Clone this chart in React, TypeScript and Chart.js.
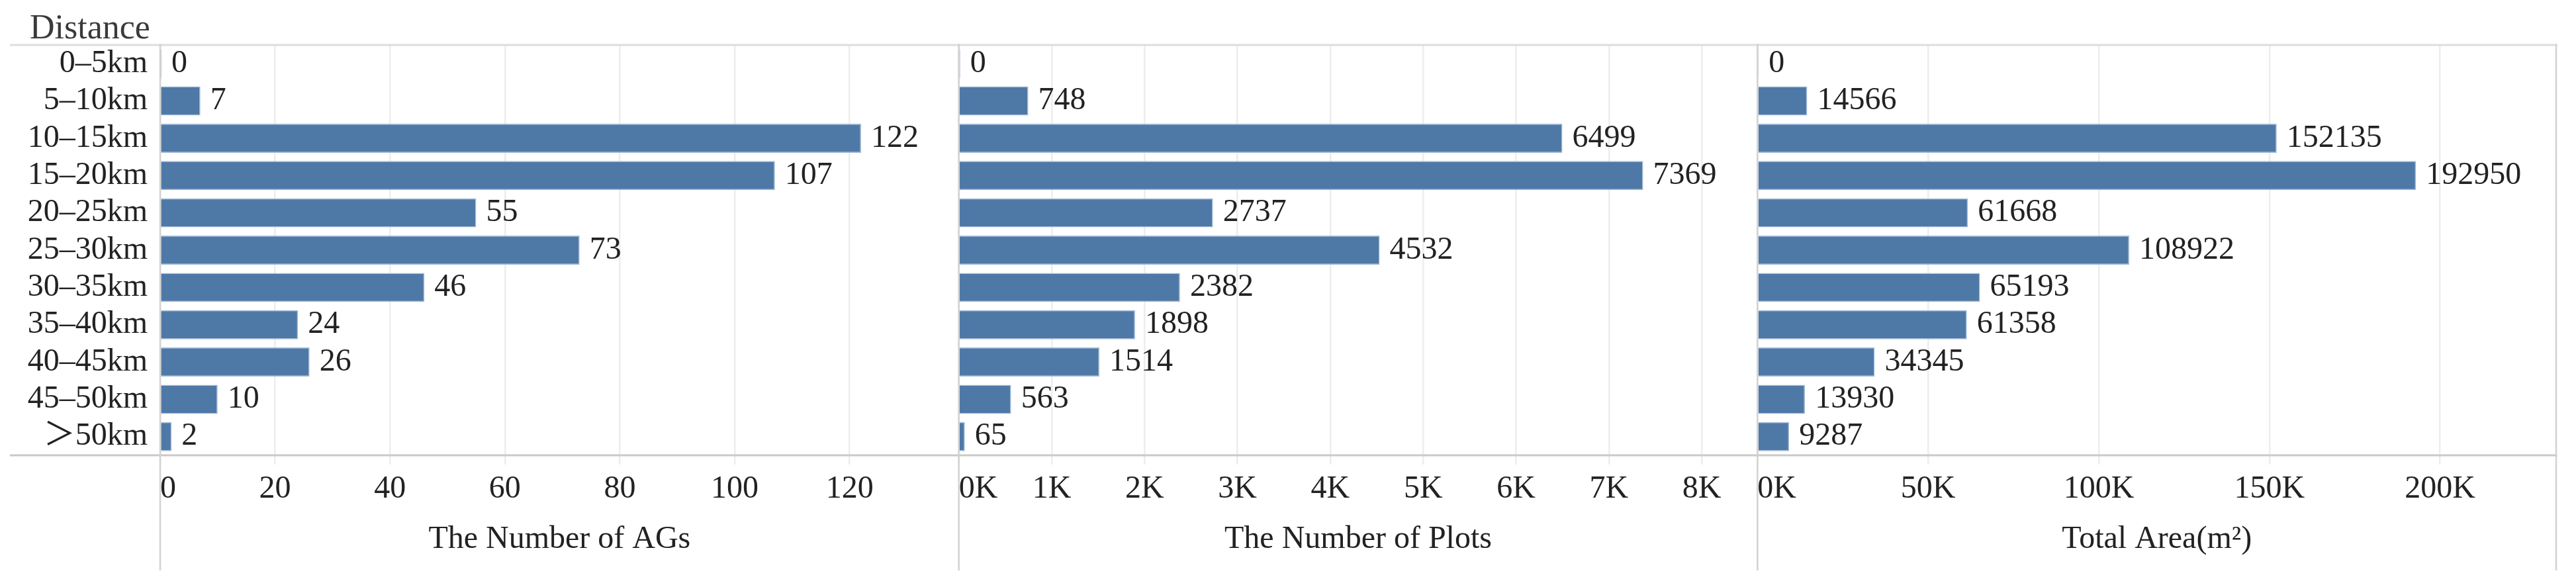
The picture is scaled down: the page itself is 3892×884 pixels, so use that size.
import React, { useEffect, useRef } from 'react';
import { Chart, registerables } from 'chart.js';

Chart.register(...registerables);

const rowHeaderTitle = 'Distance';
const categories = ['0–5km', '5–10km', '10–15km', '15–20km', '20–25km', '25–30km', '30–35km', '35–40km', '40–45km', '45–50km', '＞50km'];
const agCounts = [0, 7, 122, 107, 55, 73, 46, 24, 26, 10, 2];
const plotCounts = [0, 748, 6499, 7369, 2737, 4532, 2382, 1898, 1514, 563, 65];
const totalAreas = [0, 14566, 152135, 192950, 61668, 108922, 65193, 61358, 34345, 13930, 9287];
const axisTitles = ['The Number of AGs', 'The Number of Plots', 'Total Area(m²)'];
const agTicks = [0, 20, 40, 60, 80, 100, 120];
const plotTicks = [0, 1000, 2000, 3000, 4000, 5000, 6000, 7000, 8000];
const areaTicks = [0, 50000, 100000, 150000, 200000];
const axisMax = [139, 8600, 234000];

const FONT = "'Liberation Serif', 'Noto Sans CJK SC', serif";
const FONT_SIZE = 48;
const TEXT = '#222222';

const fmtPlain = (v: number) => String(v);
const fmtK = (v: number) => `${Math.round(v / 1000)}K`;
const formatters = [fmtPlain, fmtK, fmtK];
const tickSets = [agTicks, plotTicks, areaTicks];

function xScale(i: number) {
  const max = axisMax[i];
  const tickVals = tickSets[i];
  return {
    type: 'linear',
    position: 'bottom',
    stack: 'panels',
    stackWeight: 1,
    min: 0,
    max,
    afterBuildTicks: (s: any) => {
      s.ticks = tickVals.map((v) => ({ value: v })).concat([{ value: max }]);
    },
    afterFit: (s: any) => {
      s.height = 156;
    },
    grid: {
      color: (c: any) => (c.tick && c.tick.value === max ? 'rgba(0,0,0,0)' : '#ededed'),
      lineWidth: 2.5,
      tickLength: 14,
      drawTicks: true,
    },
    border: { display: false },
    ticks: {
      includeBounds: false,
      align: 'inner',
      autoSkip: false,
      maxRotation: 0,
      minRotation: 0,
      padding: 9,
      color: TEXT,
      font: { family: FONT, size: FONT_SIZE },
      callback: (v: number) => (tickVals.indexOf(v) >= 0 ? formatters[i](v) : ''),
    },
    title: {
      display: true,
      text: axisTitles[i],
      color: TEXT,
      font: { family: FONT, size: FONT_SIZE },
      padding: { top: 0, bottom: 0 },
    },
  };
}

const framePlugin = {
  id: 'frame',
  afterDatasetsDraw(chart: any) {
    const ctx = chart.ctx;
    const { top, bottom } = chart.chartArea;
    const xs = [chart.scales.x1.left, chart.scales.x2.left, chart.scales.x3.left, chart.scales.x3.right];
    ctx.save();
    // data labels
    ctx.font = `${FONT_SIZE}px ${FONT}`;
    ctx.fillStyle = TEXT;
    ctx.textAlign = 'left';
    ctx.textBaseline = 'middle';
    chart.data.datasets.forEach((ds: any, i: number) => {
      const meta = chart.getDatasetMeta(i);
      meta.data.forEach((el: any, j: number) => {
        ctx.fillText(String(ds.data[j]), el.x + 15, el.y);
      });
    });
    // lines
    ctx.lineWidth = 3;
    ctx.strokeStyle = '#dedede';
    ctx.beginPath();
    ctx.moveTo(15, top);
    ctx.lineTo(xs[3] + 1.5, top);
    ctx.stroke();
    ctx.strokeStyle = '#c9c9c9';
    ctx.beginPath();
    ctx.moveTo(15, bottom);
    ctx.lineTo(xs[3] + 1.5, bottom);
    ctx.stroke();
    ctx.strokeStyle = '#d2d2d2';
    ctx.lineWidth = 2.5;
    xs.forEach((x: number) => {
      ctx.beginPath();
      ctx.moveTo(x, top - 2);
      ctx.lineTo(x, 862);
      ctx.stroke();
    });
    // row header title
    ctx.font = `52px ${FONT}`;
    ctx.fillStyle = '#3a3a3a';
    ctx.textBaseline = 'alphabetic';
    ctx.fillText(rowHeaderTitle, 45, 58);
    ctx.restore();
  },
};

export default function App() {
  const canvasRef = useRef<HTMLCanvasElement>(null);

  useEffect(() => {
    if (!canvasRef.current) return;
    const series = [agCounts, plotCounts, totalAreas];
    const chart = new Chart(canvasRef.current, {
      type: 'bar',
      data: {
        labels: categories,
        datasets: series.map((d, i) => ({
          data: d,
          xAxisID: `x${i + 1}`,
          yAxisID: 'y',
          grouped: false,
          backgroundColor: '#4e79a7',
          borderColor: '#a5bcd7',
          borderWidth: 1.5,
          barPercentage: 0.78,
          categoryPercentage: 1,
          minBarLength: 2,
        })),
      } as any,
      options: {
        indexAxis: 'y',
        responsive: true,
        maintainAspectRatio: false,
        animation: false,
        layout: { padding: { top: 68, right: 30, bottom: 40, left: 0 } },
        plugins: {
          legend: { display: false },
          tooltip: { enabled: false },
        },
        scales: {
          y: {
            type: 'category',
            position: 'left',
            afterFit: (s: any) => {
              s.width = 242;
            },
            grid: { display: false, drawTicks: false },
            border: { display: false },
            ticks: {
              padding: 19,
              color: TEXT,
              font: { family: FONT, size: FONT_SIZE },
              autoSkip: false,
            },
          },
          x1: xScale(0),
          x2: xScale(1),
          x3: xScale(2),
        },
      } as any,
      plugins: [framePlugin],
    });
    return () => chart.destroy();
  }, []);

  return (
    <div style={{ position: 'fixed', left: 0, top: 0, width: 3892, height: 884, background: '#ffffff' }}>
      <canvas ref={canvasRef} />
    </div>
  );
}
